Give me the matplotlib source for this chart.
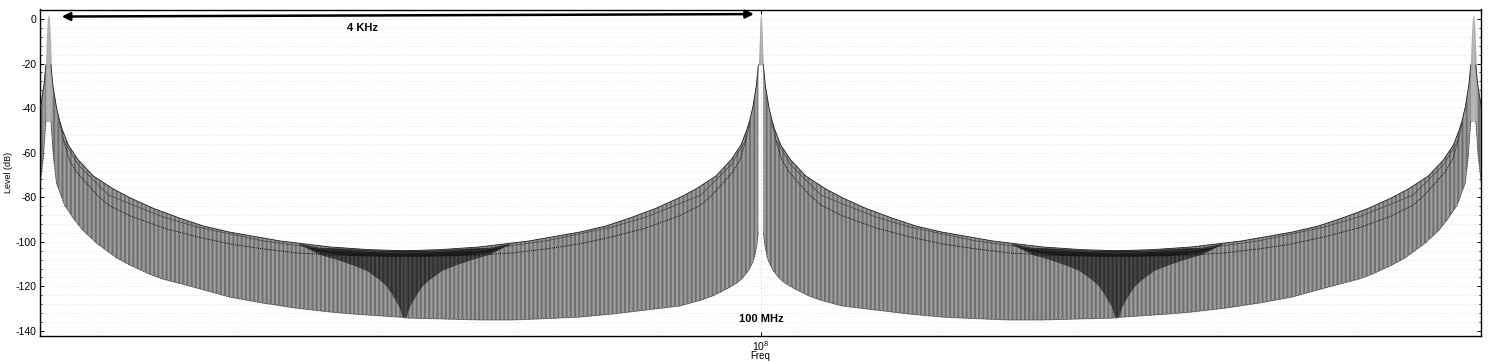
import numpy as np
import matplotlib
matplotlib.use("Agg")
import matplotlib.pyplot as plt
from matplotlib.ticker import MultipleLocator, NullLocator

plt.rcParams["font.family"] = ["Liberation Sans", "DejaVu Sans"]
plt.rcParams["hatch.linewidth"] = 1.6
plt.rcParams["axes.unicode_minus"] = False

CARRIER = 1e8
PEAKS = [-4000, 0, 4000]

# offsets from a comb peak in Hz, levels in dB
upper_hz = [14, 25, 45, 62, 79, 112, 168, 253, 365, 460, 590, 735, 870, 1015, 1300, 1580, 1800, 2000]
upper_db = [-20.6, -29.6, -39.5, -45.3, -49.8, -56.6, -63.3, -70.5, -76.3, -80.3, -85, -89.3, -92.9,
            -95.6, -99.6, -102.3, -103.5, -104]

mid_hz = [84, 168, 337, 460, 646, 837, 1022, 1207, 1584, 2000]
mid_db = [-54.3, -65.5, -79, -83, -88.9, -93.4, -96.5, -99.6, -103.7, -105]

inner_hz = [62, 90, 118, 157, 213, 270, 337, 460, 646, 837, 1022, 1207, 1398, 1584, 2000]
inner_db = [-46.7, -56, -63.3, -68.5, -73.6, -78.7, -83.5, -88.4, -93.8, -97.8, -101, -103.2, -105,
            -105.9, -106.4]

# lower edge next to the outer peaks
lower_edge_hz = [14, 28, 45, 90, 143, 191, 270, 382, 455, 567, 640, 831, 1017, 1202, 1393, 1578, 1707, 2000]
lower_edge_db = [-46, -62, -73.6, -83.5, -89.8, -94.7, -100.6, -107.2, -110.4, -114.5, -116.7, -120.7,
                 -124.8, -127.5, -129.8, -131.5, -132.4, -134]

# lower edge next to the centre peak
lower_mid_hz = [14, 22, 34, 45, 67, 101, 135, 180, 270, 331, 455, 640, 831, 1017, 1202, 1393, 1578, 2000]
lower_mid_db = [-96, -101.4, -106.4, -109.1, -112.7, -116.2, -118.5, -120.7, -124.3, -126.1, -128.8,
                -130.6, -132.4, -133.8, -134.5, -135.1, -135.1, -134.2]

# dark wedge around the half way notch, offset from the notch in Hz
notch_hz = [0, 11, 30, 67, 100, 140, 210, 292, 380, 477, 590]
notch_low_db = [-134, -133.8, -129, -123.9, -120, -117.1, -113, -110.4, -108, -105.8, -101.2]
notch_top_db = [-104, -104, -104, -104, -104, -104, -103.8, -103.4, -103, -102.7, -101]
band_low_db = [-106.5, -106.5, -106.5, -106.5, -106.5, -106.4, -106.3, -106.2, -105.6, -104.6, -101.2]

# main lobes
lobe_hz = [0, 5, 8, 11, 14]
lobe_db = [2.2, 0, -8, -15, -20.6]
edge_lobe_hz = [0, 5, 10, 14, 17, 17]
edge_lobe_db = [2.2, 0.5, -6, -14, -20.6, -46]

arrow_hz = [-3925, -39]
arrow_db = [1.1, 2.2]

y_ticks = [0, -20, -40, -60, -80, -100, -120, -140]


def side_polygon(ax, peak, side, top_hz, top_db, low_hz, low_db, **kw):
    x_top = CARRIER + peak + side * np.array(top_hz)
    x_low = CARRIER + peak + side * np.array(low_hz)
    xs = np.concatenate([x_top, x_low[::-1]])
    ys = np.concatenate([top_db, low_db[::-1]])
    ax.fill(xs, ys, **kw)


def main():
    fig = plt.figure(figsize=(14.92, 3.62), dpi=100)
    ax = fig.add_axes([39.5 / 1492, 1 - 336.3 / 362, (1481.3 - 39.5) / 1492, (336.3 - 9.5) / 362])
    ax.set_xscale("log")

    comb = dict(facecolor="#6f6f6f", edgecolor="#9c9c9c", hatch="||||", linewidth=0, zorder=2)

    # (peak, side, lower edge arrays) for each flank of the comb
    flanks = [
        (PEAKS[0], -1, lower_edge_hz, lower_edge_db),
        (PEAKS[0], 1, lower_edge_hz, lower_edge_db),
        (PEAKS[1], -1, lower_mid_hz, lower_mid_db),
        (PEAKS[1], 1, lower_mid_hz, lower_mid_db),
        (PEAKS[2], -1, lower_edge_hz, lower_edge_db),
        (PEAKS[2], 1, lower_edge_hz, lower_edge_db),
    ]
    for peak, side, low_hz, low_db in flanks:
        side_polygon(ax, peak, side, upper_hz, upper_db, low_hz, low_db, **comb)
        x_up = CARRIER + peak + side * np.array(upper_hz)
        ax.plot(x_up, upper_db, color="#222222", lw=0.6, zorder=4)
        ax.plot(CARRIER + peak + side * np.array(low_hz), low_db, color="#222222", lw=0.6, ls=(0, (1, 1)), zorder=4)
        ax.plot(CARRIER + peak + side * np.array(mid_hz), mid_db, color="#444444", lw=0.5, zorder=4)
        ax.plot(CARRIER + peak + side * np.array(inner_hz), inner_db, color="#111111", lw=0.7,
                ls=(0, (1, 1)), zorder=4)

    # dark wedges at the notches
    for notch in [-2000, 2000]:
        for side in [-1, 1]:
            x = CARRIER + notch + side * np.array(notch_hz)
            ax.fill_between(x, notch_low_db, notch_top_db, facecolor="#2e2e2e", edgecolor="#484848",
                            hatch="||||", linewidth=0, zorder=3)
            ax.fill_between(x, band_low_db, notch_top_db, color="#1c1c1c", linewidth=0, zorder=3.5)

    # main lobes, the outer ones are filled lower down
    for side in [-1, 1]:
        x = CARRIER + PEAKS[1] + side * np.array(lobe_hz)
        ax.fill_between(x, -20.6, lobe_db, color="#a8a8a8", linewidth=0, zorder=3)
        for peak in [PEAKS[0], PEAKS[2]]:
            x = CARRIER + peak + side * np.array(edge_lobe_hz)
            ax.fill_between(x, -46, edge_lobe_db, color="#b0b0b0", linewidth=0, zorder=3)

    ax.set_xlim(CARRIER - 4050, CARRIER + 4045)
    ax.set_ylim(-142.4, 4.26)

    ax.set_yticks(y_ticks)
    ax.yaxis.set_minor_locator(MultipleLocator(4))
    ax.xaxis.set_minor_locator(NullLocator())
    ax.set_xticks([CARRIER])
    ax.set_xticklabels([r"$\mathdefault{10^{8}}$"])
    ax.tick_params(axis="both", which="major", direction="in", top=True, right=True, length=3, width=0.7,
                   labelsize=7.5, pad=2)
    ax.tick_params(axis="y", which="minor", direction="in", right=True, length=1.5, width=0.6)
    ax.set_axisbelow(True)
    ax.grid(True, axis="y", which="both", color="#e4e4e4", lw=0.6, ls=(0, (1.5, 2)))
    ax.grid(True, axis="x", which="major", color="#dedede", lw=0.7, ls=(0, (2, 2)))
    for spine in ax.spines.values():
        spine.set_linewidth(1.0)

    ax.set_xlabel("Freq", fontsize=7, labelpad=-1)
    ax.set_ylabel("Level (dB)", fontsize=6.5, labelpad=2)

    ax.annotate("", xy=(CARRIER + arrow_hz[1], arrow_db[1]), xytext=(CARRIER + arrow_hz[0], arrow_db[0]),
                arrowprops=dict(arrowstyle="<|-|>", color="black", lw=1.8, mutation_scale=12,
                                shrinkA=0, shrinkB=0), zorder=6)
    ax.text(CARRIER - 2237, -4, "4 KHz", fontsize=8, fontweight="bold", ha="center", va="center", zorder=6)
    ax.text(CARRIER, -134.5, "100 MHz", fontsize=8, fontweight="bold", ha="center", va="center", zorder=6)

    fig.savefig("out.png", dpi=100)


if __name__ == "__main__":
    main()
